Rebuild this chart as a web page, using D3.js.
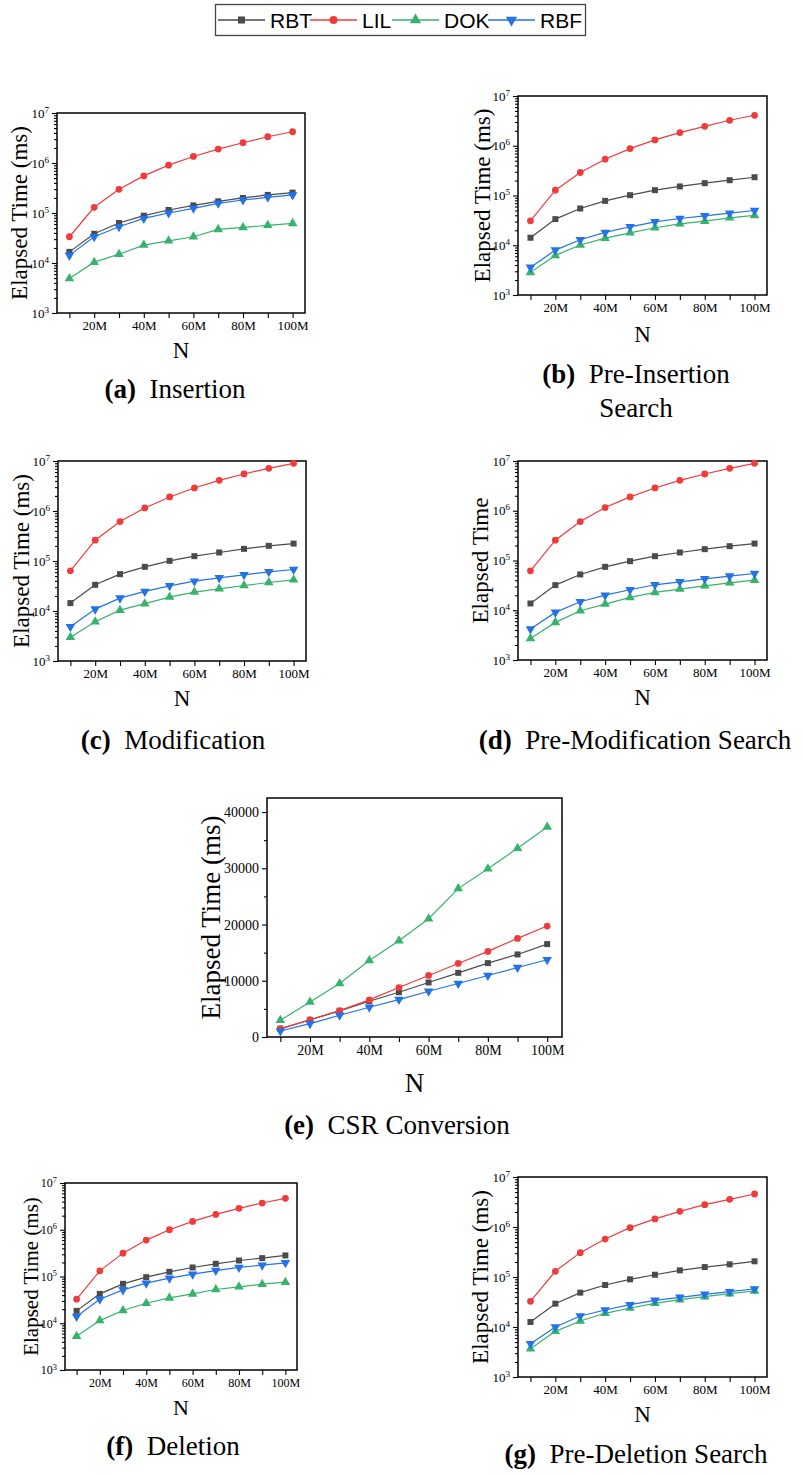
<!DOCTYPE html>
<html>
<head>
<meta charset="utf-8">
<script src="https://cdn.jsdelivr.net/npm/d3@7"></script>
<style>
  body { margin: 0; background: #fff; }
  svg { display: block; }
</style>
</head>
<body>
<svg width="803" height="1474"></svg>
<script>
// N in millions
var sizes = [10, 20, 30, 40, 50, 60, 70, 80, 90, 100];
var seriesNames = ["RBT", "LIL", "DOK", "RBF"];
var logTicks = [1e3, 1e4, 1e5, 1e6, 1e7];
var linTicks = [0, 10000, 20000, 30000, 40000];

// (a) Insertion
var insRBT = [16700, 38400, 63000, 88400, 115000, 142000, 171000, 200000, 230000, 256000];
var insLIL = [33500, 130000, 298000, 552000, 905000, 1350000, 1900000, 2540000, 3350000, 4220000];
var insDOK = [4890, 10400, 15000, 22800, 27800, 33500, 47000, 51500, 56600, 62000];
var insRBF = [14200, 33500, 53000, 78000, 100000, 124000, 156000, 182000, 206000, 230000];

// (b) Pre-Insertion Search
var pinRBT = [14150, 33500, 54800, 78100, 101600, 128000, 152000, 177000, 203000, 233000];
var pinLIL = [31000, 128000, 290000, 536000, 877000, 1310000, 1840000, 2460000, 3250000, 4100000];
var pinDOK = [2850, 6250, 10100, 13900, 17800, 22500, 27000, 30500, 35600, 39700];
var pinRBF = [3590, 8000, 12900, 18100, 23500, 29600, 34500, 39100, 44200, 50000];

// (c) Modification
var modRBT = [14400, 33400, 54600, 76500, 100700, 125000, 148000, 175000, 201000, 223000];
var modLIL = [63600, 261000, 615000, 1150000, 1910000, 2890000, 4110000, 5500000, 7140000, 8980000];
var modDOK = [2970, 6100, 10400, 14000, 19000, 23900, 27800, 32400, 37200, 42100];
var modRBF = [4850, 10900, 18100, 24600, 31900, 39500, 46100, 53000, 60800, 67600];

// (d) Pre-Modification Search
var pmoRBT = [13700, 32000, 52400, 74600, 97000, 122000, 145000, 169000, 194000, 219000];
var pmoLIL = [62000, 256000, 607000, 1160000, 1900000, 2870000, 4090000, 5480000, 7130000, 8980000];
var pmoDOK = [2720, 5700, 9770, 13300, 18100, 22800, 26600, 31000, 35600, 40300];
var pmoRBF = [4190, 9060, 14800, 20100, 25800, 32500, 37300, 42900, 48500, 54800];

// (e) CSR Conversion
var csrRBT = [1490, 3030, 4640, 6360, 7960, 9690, 11410, 13140, 14680, 16520];
var csrLIL = [1430, 3090, 4700, 6600, 8800, 10940, 13080, 15220, 17530, 19730];
var csrDOK = [2970, 6240, 9510, 13610, 17120, 21040, 26390, 29900, 33580, 37330];
var csrRBF = [1070, 2380, 3860, 5290, 6660, 8140, 9510, 10940, 12360, 13730];

// (f) Deletion
var delRBT = [18400, 42500, 69700, 96800, 126000, 156000, 187000, 220000, 247000, 282000];
var delLIL = [32700, 132000, 316000, 601000, 1000000, 1510000, 2130000, 2870000, 3730000, 4690000];
var delDOK = [5260, 11400, 18700, 26800, 34900, 42500, 52700, 60100, 68500, 75600];
var delRBF = [13900, 32700, 51800, 71900, 92100, 112000, 134000, 156000, 175000, 196000];

// (g) Pre-Deletion Search
var pdeRBT = [12600, 29300, 48600, 69200, 89800, 111000, 136000, 158000, 179000, 206000];
var pdeLIL = [32600, 130000, 307000, 575000, 970000, 1450000, 2060000, 2800000, 3570000, 4570000];
var pdeDOK = [3690, 8190, 13200, 18800, 24000, 29700, 35200, 40400, 46400, 52500];
var pdeRBF = [4640, 10000, 16600, 21900, 28000, 34200, 39200, 45000, 50900, 57500];

var colors = ["#4b4b4b", "#f03b3b", "#37b26d", "#2372e6"];
var serif = "'Liberation Serif', 'Times New Roman', serif";

var svg = d3.select("svg");

var markerPath = function(i, size) {
  if (i == 0) return d3.symbol().type(d3.symbolSquare).size(size)();
  if (i == 1) return d3.symbol().type(d3.symbolCircle).size(size)();
  return d3.symbol().type(d3.symbolTriangle).size(size * 1.1)();
};

var panels = [
  {key: "a", data: [insRBT, insLIL, insDOK, insRBF], left: 57, top: 113, w: 248, h: 200, xd: [5, 105], log: true,
   ylab: "Elapsed Time (ms)", ylabDx: -30, ylabSize: 23, nSize: 23, nDy: 45, tick: 13,
   cap: ["(a)", "Insertion"], capX: 175, capY: [398]},
  {key: "b", data: [pinRBT, pinLIL, pinDOK, pinRBF], left: 518, top: 96, w: 249, h: 199, xd: [5, 105], log: true,
   ylab: "Elapsed Time (ms)", ylabDx: -28, ylabSize: 23, nSize: 23, nDy: 47, tick: 13,
   cap: ["(b)", "Pre-Insertion", "Search"], capX: 636, capY: [383, 417]},
  {key: "c", data: [modRBT, modLIL, modDOK, modRBF], left: 58, top: 461, w: 248, h: 200, xd: [5, 105], log: true,
   ylab: "Elapsed Time (ms)", ylabDx: -29, ylabSize: 23, nSize: 23, nDy: 45, tick: 13,
   cap: ["(c)", "Modification"], capX: 173, capY: [749]},
  {key: "d", data: [pmoRBT, pmoLIL, pmoDOK, pmoRBF], left: 518, top: 461, w: 249, h: 199, xd: [5, 105], log: true,
   ylab: "Elapsed Time", ylabDx: -30, ylabSize: 23, nSize: 23, nDy: 45, tick: 13,
   cap: ["(d)", "Pre-Modification Search"], capX: 635, capY: [749]},
  {key: "e", data: [csrRBT, csrLIL, csrDOK, csrRBF], left: 267, top: 798, w: 295, h: 239, xd: [5.5, 105], log: false,
   ylab: "Elapsed Time (ms)", ylabDx: -47, ylabSize: 27, nSize: 27, nDy: 55, tick: 14,
   cap: ["(e)", "CSR Conversion"], capX: 397, capY: [1134]},
  {key: "f", data: [delRBT, delLIL, delDOK, delRBF], left: 65, top: 1183, w: 232, h: 187, xd: [5, 105], log: true,
   ylab: "Elapsed Time (ms)", ylabDx: -27, ylabSize: 21, nSize: 22, nDy: 45, tick: 12,
   cap: ["(f)", "Deletion"], capX: 173, capY: [1455]},
  {key: "g", data: [pdeRBT, pdeLIL, pdeDOK, pdeRBF], left: 518, top: 1177, w: 249, h: 200, xd: [5, 105], log: true,
   ylab: "Elapsed Time (ms)", ylabDx: -30, ylabSize: 23, nSize: 23, nDy: 45, tick: 13,
   cap: ["(g)", "Pre-Deletion Search"], capX: 636, capY: [1463]}
];

var drawPanel = function(p) {
  var g = svg.append("g").attr("transform", "translate(" + p.left + "," + p.top + ")");

  var x = d3.scaleLinear().domain(p.xd).range([0, p.w]);
  var y;
  if (p.log) y = d3.scaleLog().domain([1e3, 1e7]).range([p.h, 0]);
  else y = d3.scaleLinear().domain([0, 42500]).range([p.h, 0]);

  // x axis
  var xa = g.append("g")
    .attr("transform", "translate(0," + p.h + ")")
    .call(d3.axisBottom(x).tickValues(sizes).tickSize(5).tickPadding(3)
      .tickFormat(function(d) { return d % 20 == 0 ? d + "M" : ""; }));
  xa.select(".domain").remove();
  xa.selectAll("text").attr("font-family", serif).attr("font-size", p.tick).attr("fill", "#000");

  // y axis
  var ya;
  if (p.log) {
    var minor = [];
    logTicks.slice(0, 4).forEach(function(t) {
      for (var k = 2; k < 10; k++) minor.push(t * k);
    });
    var ym = g.append("g").call(d3.axisLeft(y).tickValues(minor).tickSize(3).tickFormat(""));
    ym.select(".domain").remove();
    ya = g.append("g").call(d3.axisLeft(y).tickValues(logTicks).tickSize(5).tickPadding(3).tickFormat(""));
    ya.selectAll(".tick text").each(function(d) {
      var t = d3.select(this);
      t.text("10");
      t.append("tspan").attr("dy", "-0.55em").attr("font-size", p.tick * 0.7).text(Math.round(Math.log10(d)));
    });
  } else {
    var ym = g.append("g").call(d3.axisLeft(y).tickValues([5000, 15000, 25000, 35000]).tickSize(3).tickFormat(""));
    ym.select(".domain").remove();
    ya = g.append("g").call(d3.axisLeft(y).tickValues(linTicks).tickSize(5).tickPadding(3).tickFormat(d3.format("d")));
  }
  ya.select(".domain").remove();
  ya.selectAll("text").attr("font-family", serif).attr("font-size", p.tick).attr("fill", "#000");
  g.selectAll(".tick line").attr("stroke", "#000").attr("stroke-width", 1.1);

  // frame
  g.append("rect")
    .attr("width", p.w).attr("height", p.h)
    .attr("fill", "none").attr("stroke", "#000").attr("stroke-width", 1.5);

  // series
  var line = d3.line()
    .x(function(d, i) { return x(sizes[i]); })
    .y(function(d) { return y(d); });

  p.data.forEach(function(vals, si) {
    g.append("path")
      .attr("d", line(vals))
      .attr("fill", "none")
      .attr("stroke", colors[si])
      .attr("stroke-width", 1.2);
    g.selectAll(".m" + si)
      .data(vals)
      .enter().append("path")
      .attr("class", "m" + si)
      .attr("d", markerPath(si, 36))
      .attr("fill", colors[si])
      .attr("transform", function(d, i) {
        return "translate(" + x(sizes[i]) + "," + y(d) + ")" + (si == 3 ? " rotate(180)" : "");
      });
  });

  // axis titles
  g.append("text")
    .attr("transform", "translate(" + p.ylabDx + "," + (p.h / 2) + ") rotate(-90)")
    .attr("text-anchor", "middle")
    .attr("font-family", serif)
    .attr("font-size", p.ylabSize)
    .text(p.ylab);

  g.append("text")
    .attr("x", p.w / 2)
    .attr("y", p.h + p.nDy)
    .attr("text-anchor", "middle")
    .attr("font-family", serif)
    .attr("font-size", p.nSize)
    .text("N");

  // caption
  var first = svg.append("text")
    .attr("x", p.capX).attr("y", p.capY[0])
    .attr("text-anchor", "middle")
    .attr("font-family", serif)
    .attr("font-size", 27);
  first.append("tspan").attr("font-weight", "bold").text(p.cap[0]);
  first.append("tspan").text("\u2002" + p.cap[1]);
  if (p.cap.length > 2) {
    svg.append("text")
      .attr("x", p.capX).attr("y", p.capY[1])
      .attr("text-anchor", "middle")
      .attr("font-family", serif)
      .attr("font-size", 27)
      .text(p.cap[2]);
  }
};

panels.forEach(drawPanel);

// legend
var legend = svg.append("g");
legend.append("rect")
  .attr("x", 215.5).attr("y", 4.5).attr("width", 370).attr("height", 31)
  .attr("fill", "#fff").attr("stroke", "#444").attr("stroke-width", 1.3);

var legendX = [218, 310, 392, 488];
seriesNames.forEach(function(name, i) {
  var lx = legendX[i];
  legend.append("line")
    .attr("x1", lx).attr("x2", lx + 47)
    .attr("y1", 20).attr("y2", 20)
    .attr("stroke", colors[i]).attr("stroke-width", 1.6);
  legend.append("path")
    .attr("d", markerPath(i, 50))
    .attr("fill", colors[i])
    .attr("transform", "translate(" + (lx + 23.5) + ",20)" + (i == 3 ? " rotate(180)" : ""));
  legend.append("text")
    .attr("x", lx + 52).attr("y", 28)
    .attr("font-family", "'Liberation Sans', Arial, sans-serif")
    .attr("font-size", 21)
    .attr("fill", "#000")
    .text(name);
});
</script>
</body>
</html>
